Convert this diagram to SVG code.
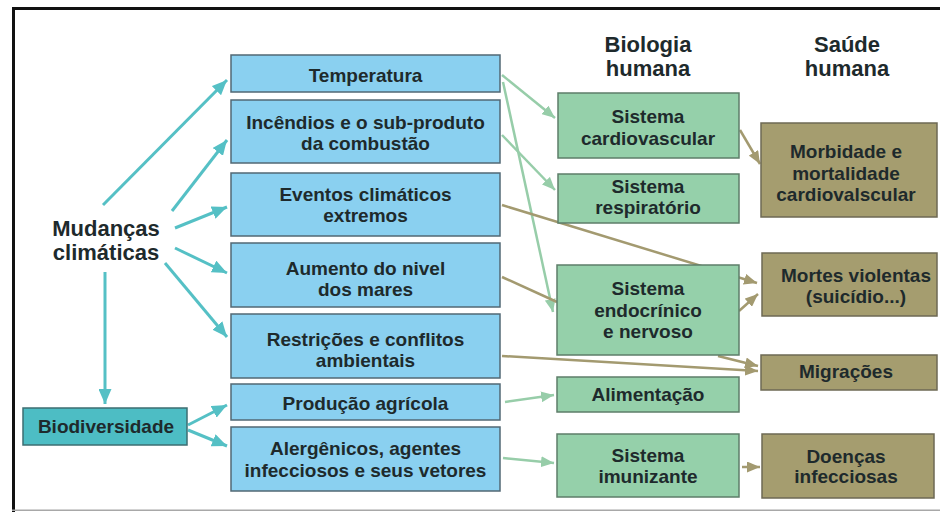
<svg xmlns="http://www.w3.org/2000/svg" width="940" height="513" viewBox="0 0 940 513">
<style>
text{font-family:"Liberation Sans",Arial,sans-serif;font-weight:bold;fill:#1e2a2c;text-anchor:middle}
.t19{font-size:19px}
.t22{font-size:22px}
.blue{fill:#8ad0f0;stroke:#526874;stroke-width:1.5}
.green{fill:#95d0aa;stroke:#5e7e69;stroke-width:1.5}
.olive{fill:#a59d6f;stroke:#6e6954;stroke-width:1.5}
.bio{fill:#4dbdc4;stroke:#3d6e72;stroke-width:1.5}
.ct{fill:none;stroke:#55c0c5;stroke-width:3;marker-end:url(#ah-teal)}
.cg{fill:none;stroke:#97cda9;stroke-width:2.5;marker-end:url(#ah-green)}
.cb{fill:none;stroke:#a39a70;stroke-width:2.5;marker-end:url(#ah-brown)}
</style>
<defs>
<marker id="ah-teal" markerUnits="userSpaceOnUse" markerWidth="15" markerHeight="13" refX="15" refY="6.5" orient="auto"><path d="M0,0 L15,6.5 L0,13 z" fill="#55c0c5"/></marker>
<marker id="ah-green" markerUnits="userSpaceOnUse" markerWidth="13" markerHeight="11" refX="13" refY="5.5" orient="auto"><path d="M0,0 L13,5.5 L0,11 z" fill="#97cda9"/></marker>
<marker id="ah-brown" markerUnits="userSpaceOnUse" markerWidth="13" markerHeight="11" refX="13" refY="5.5" orient="auto"><path d="M0,0 L13,5.5 L0,11 z" fill="#a39a70"/></marker>
</defs>
<rect x="0" y="0" width="940" height="513" fill="#ffffff"/>
<rect x="12" y="7" width="928" height="3" fill="#111"/>
<rect x="12" y="7" width="3" height="505" fill="#111"/>
<rect x="12" y="509.5" width="928" height="1.5" fill="#a8a8a8"/>

<g id="connectors">
<path class="ct" d="M103,205 L227,80"/>
<path class="ct" d="M172,211 L227,140"/>
<path class="ct" d="M175,228 L227,207"/>
<path class="ct" d="M175,248 L227,273"/>
<path class="ct" d="M165,263 L227,337"/>
<path class="ct" d="M105,272 L105,404"/>
<path class="ct" d="M188,425 L227,405"/>
<path class="ct" d="M188,430 L227,446"/>
<path class="cg" d="M502,75 L555,118"/>
<path class="cg" d="M503,82 L553,312"/>
<path class="cg" d="M502,135 L555,190"/>
<path class="cg" d="M505,402 L554,395"/>
<path class="cg" d="M503,458 L554,463"/>
<path class="cb" d="M502,205 L757,283"/>
<path class="cb" d="M739,311 L758,294"/>
<path fill="none" stroke="#a39a70" stroke-width="2.5" d="M502,277 L557,302"/>
<path class="cb" d="M502,356 L758,371"/>
<path class="cb" d="M718,356 L758,366"/>
<path class="cb" d="M740,130 L760,164"/>
<path class="cb" d="M742,467 L760,467"/>
</g>

<g id="mudancas"><text class="t22" x="106" y="236">Mudanças</text><text class="t22" x="106" y="260">climáticas</text></g>
<g id="biodiversidade"><rect class="bio" x="23" y="408" width="164" height="37"/><text class="t19" x="106" y="433">Biodiversidade</text></g>

<g id="temperatura"><rect class="blue" x="231" y="55" width="269" height="37"/><text class="t19" x="365.5" y="82">Temperatura</text></g>
<g id="incendios"><rect class="blue" x="231" y="100" width="269" height="63"/><text class="t19" x="365.5" y="129">Incêndios e o sub-produto</text><text class="t19" x="365.5" y="150">da combustão</text></g>
<g id="eventos"><rect class="blue" x="231" y="173" width="269" height="63"/><text class="t19" x="365.5" y="201">Eventos climáticos</text><text class="t19" x="365.5" y="222">extremos</text></g>
<g id="aumento"><rect class="blue" x="231" y="243" width="269" height="64"/><text class="t19" x="365.5" y="275">Aumento do nivel</text><text class="t19" x="365.5" y="296">dos mares</text></g>
<g id="restricoes"><rect class="blue" x="231" y="314" width="269" height="64"/><text class="t19" x="365.5" y="346">Restrições e conflitos</text><text class="t19" x="365.5" y="367">ambientais</text></g>
<g id="producao"><rect class="blue" x="231" y="384" width="269" height="36"/><text class="t19" x="365.5" y="410">Produção agrícola</text></g>
<g id="alergenicos"><rect class="blue" x="231" y="427" width="269" height="64"/><text class="t19" x="365.5" y="455">Alergênicos, agentes</text><text class="t19" x="365.5" y="477">infecciosos e seus vetores</text></g>

<g id="hdr-biologia"><text class="t22" x="648" y="52">Biologia</text><text class="t22" x="648" y="76">humana</text></g>
<g id="hdr-saude"><text class="t22" x="847" y="52">Saúde</text><text class="t22" x="847" y="76">humana</text></g>

<g id="cardio"><rect class="green" x="558" y="93" width="181" height="65"/><text class="t19" x="648" y="123">Sistema</text><text class="t19" x="648" y="145">cardiovascular</text></g>
<g id="respiratorio"><rect class="green" x="558" y="174" width="181" height="49"/><text class="t19" x="648" y="193">Sistema</text><text class="t19" x="648" y="214">respiratório</text></g>
<g id="endocrinico"><rect class="green" x="557" y="265" width="182" height="90"/><text class="t19" x="648" y="295">Sistema</text><text class="t19" x="648" y="317">endocrínico</text><text class="t19" x="648" y="338">e nervoso</text></g>
<g id="alimentacao"><rect class="green" x="557" y="377" width="182" height="35"/><text class="t19" x="648" y="401">Alimentação</text></g>
<g id="imunizante"><rect class="green" x="557" y="434" width="182" height="63"/><text class="t19" x="648" y="462">Sistema</text><text class="t19" x="648" y="483">imunizante</text></g>

<g id="morbidade"><rect class="olive" x="761" y="123" width="176" height="94"/><text class="t19" x="846" y="158">Morbidade e</text><text class="t19" x="846" y="180">mortalidade</text><text class="t19" x="846" y="201">cardiovalscular</text></g>
<g id="mortes"><rect class="olive" x="762" y="253" width="175" height="63"/><text class="t19" x="856" y="282">Mortes violentas</text><text class="t19" x="856" y="303">(suicídio...)</text></g>
<g id="migracoes"><rect class="olive" x="761" y="355" width="176" height="35"/><text class="t19" x="846" y="378">Migrações</text></g>
<g id="doencas"><rect class="olive" x="762" y="434" width="172" height="64"/><text class="t19" x="846" y="463">Doenças</text><text class="t19" x="846" y="483">infecciosas</text></g>
</svg>
